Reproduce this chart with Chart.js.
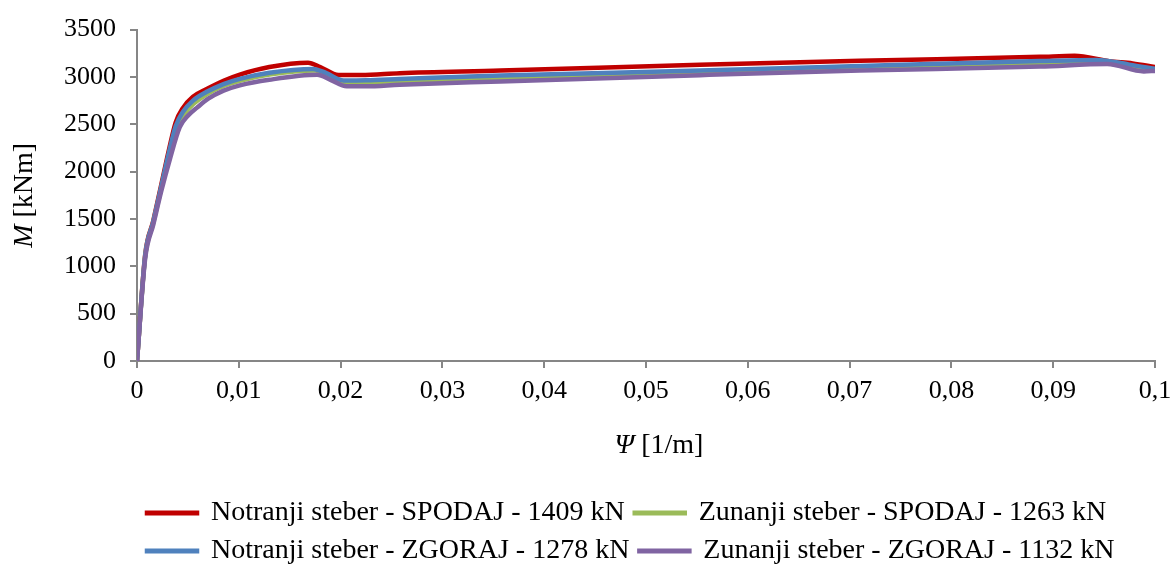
<!DOCTYPE html>
<html>
<head>
<meta charset="utf-8">
<script src="https://cdn.jsdelivr.net/npm/chart.js@4"></script>
<style>
    html, body { margin: 0; padding: 0; background: #fff; overflow: hidden; }
    #wrap { width: 1172px; height: 575px; }
</style>
</head>
<body>
<div id="wrap"><canvas id="moment-curvature-chart"></canvas></div>
<script>
// Notranji steber - SPODAJ - 1409 kN
const psiNotranjiSpodaj = [0, 0.0008, 0.0016, 0.0024, 0.0032, 0.0038, 0.0045, 0.0055, 0.0068, 0.0085, 0.0101, 0.013, 0.0168, 0.018, 0.0198, 0.022, 0.0258, 0.0357, 0.0553, 0.071, 0.0887, 0.0921, 0.0955, 0.0978, 0.1];
const mNotranjiSpodaj   = [0, 1120, 1480, 1870, 2260, 2520, 2670, 2790, 2870, 2960, 3025, 3105, 3150, 3105, 3020, 3020, 3040, 3067, 3129, 3171, 3212, 3223, 3165, 3143, 3105];

// Zunanji steber - SPODAJ - 1263 kN
const psiZunanjiSpodaj = [0, 0.0008, 0.0016, 0.0024, 0.0032, 0.0039, 0.0046, 0.0056, 0.0069, 0.0085, 0.0101, 0.013, 0.0175, 0.0188, 0.0205, 0.0225, 0.0258, 0.0357, 0.0553, 0.071, 0.089, 0.0947, 0.0978, 0.1];
const mZunanjiSpodaj   = [0, 1100, 1460, 1830, 2200, 2450, 2600, 2720, 2820, 2905, 2960, 3025, 3068, 3020, 2945, 2945, 2955, 2988, 3046, 3098, 3148, 3160, 3110, 3075];

// Notranji steber - ZGORAJ - 1278 kN
const psiNotranjiZgoraj = [0, 0.0008, 0.0016, 0.0024, 0.0032, 0.0038, 0.0045, 0.0055, 0.0068, 0.0085, 0.0101, 0.013, 0.0173, 0.0186, 0.0203, 0.0225, 0.0258, 0.0357, 0.0553, 0.071, 0.0887, 0.0943, 0.0975, 0.1];
const mNotranjiZgoraj   = [0, 1110, 1470, 1850, 2230, 2480, 2630, 2750, 2840, 2925, 2980, 3045, 3085, 3040, 2963, 2965, 2978, 3015, 3067, 3116, 3168, 3180, 3130, 3085];

// Zunanji steber - ZGORAJ - 1132 kN
const psiZunanjiZgoraj = [0, 0.0008, 0.0016, 0.0024, 0.0032, 0.0042, 0.005, 0.0059, 0.007, 0.0085, 0.0101, 0.013, 0.0177, 0.019, 0.0206, 0.0225, 0.0258, 0.0357, 0.0553, 0.071, 0.0887, 0.0953, 0.0989, 0.1];
const mZunanjiZgoraj   = [0, 1080, 1440, 1800, 2120, 2469, 2590, 2676, 2770, 2855, 2911, 2970, 3022, 2970, 2901, 2901, 2918, 2953, 3019, 3067, 3109, 3137, 3058, 3064];

const xTickLabels = ["0", "0,01", "0,02", "0,03", "0,04", "0,05", "0,06", "0,07", "0,08", "0,09", "0,1"];
const yTickValues = [0, 500, 1000, 1500, 2000, 2500, 3000, 3500];

const serif = "'Liberation Serif', 'Times New Roman', serif";
const axisGray = "#868686";

const toPoints = (psi, m) => psi.map((x, i) => ({ x: x, y: m[i] }));

const series = (label, color, psi, m, order) => ({
    label: label,
    data: toPoints(psi, m),
    borderColor: color,
    backgroundColor: color,
    borderWidth: 4.5,
    pointRadius: 0,
    cubicInterpolationMode: 'monotone',
    order: order
});

// axis titles with an italic symbol followed by upright units
const axisTitles = {
    id: 'axisTitles',
    afterDraw(chart) {
        const ctx = chart.ctx;
        const area = chart.chartArea;

        const drawMixed = (symbol, rest, cx, cy) => {
            ctx.font = "italic 28px " + serif;
            const w1 = ctx.measureText(symbol).width;
            ctx.font = "28px " + serif;
            const w2 = ctx.measureText(rest).width;
            let x = cx - (w1 + w2) / 2;
            ctx.font = "italic 28px " + serif;
            ctx.fillText(symbol, x, cy);
            ctx.font = "28px " + serif;
            ctx.fillText(rest, x + w1, cy);
        };

        ctx.save();
        ctx.fillStyle = "#000";
        ctx.textAlign = "left";
        ctx.textBaseline = "middle";
        drawMixed("Ψ", " [1/m]", (area.left + area.right) / 2 + 13, area.bottom + 85);
        ctx.translate(25, (area.top + area.bottom) / 2);
        ctx.rotate(-Math.PI / 2);
        drawMixed("M", " [kNm]", 0, 0);
        ctx.restore();
    }
};

new Chart(document.getElementById("moment-curvature-chart"), {
    type: 'line',
    data: {
        datasets: [
            series("Notranji steber - SPODAJ - 1409 kN", "rgb(192,0,0)", psiNotranjiSpodaj, mNotranjiSpodaj, 3),
            series("Zunanji steber - SPODAJ - 1263 kN", "rgb(155,187,89)", psiZunanjiSpodaj, mZunanjiSpodaj, 2),
            series("Notranji steber - ZGORAJ - 1278 kN", "rgb(79,129,189)", psiNotranjiZgoraj, mNotranjiZgoraj, 1),
            series("Zunanji steber - ZGORAJ - 1132 kN", "rgb(128,100,162)", psiZunanjiZgoraj, mZunanjiZgoraj, 0)
        ]
    },
    options: {
        responsive: true,
        maintainAspectRatio: false,
        animation: false,
        layout: {
            padding: { top: 24, right: 17, bottom: 0, left: 0 }
        },
        plugins: {
            legend: {
                position: 'bottom',
                fullSize: false,
                align: 'start',
                labels: {
                    color: "#000",
                    font: { family: serif, size: 28 },
                    boxWidth: 50,
                    boxHeight: 0.5,
                    padding: 10,
                    sort: (a, b) => a.datasetIndex - b.datasetIndex
                }
            },
            tooltip: { enabled: false }
        },
        scales: {
            x: {
                type: 'linear',
                min: 0,
                max: 0.1,
                afterBuildTicks: (scale) => {
                    scale.ticks = xTickLabels.map((_, i) => ({ value: i / 100 }));
                },
                afterFit: (scale) => {
                    scale.height = 128;
                    // "0,1" may hang past the right edge of the plot
                    scale.paddingRight = 0;
                },
                ticks: {
                    color: "#000",
                    font: { family: serif, size: 26 },
                    padding: 8,
                    maxRotation: 0,
                    autoSkip: false,
                    callback: (value, index) => xTickLabels[index]
                },
                grid: {
                    drawOnChartArea: false,
                    drawTicks: true,
                    tickLength: 7,
                    color: axisGray,
                    lineWidth: 2
                },
                border: { display: true, color: axisGray, width: 2 }
            },
            y: {
                type: 'linear',
                min: 0,
                max: 3500,
                afterBuildTicks: (scale) => {
                    scale.ticks = yTickValues.map(v => ({ value: v }));
                },
                afterFit: (scale) => { scale.width = 137; },
                ticks: {
                    color: "#000",
                    font: { family: serif, size: 26 },
                    padding: 14,
                    callback: (value) => String(value)
                },
                grid: {
                    drawOnChartArea: false,
                    drawTicks: true,
                    tickLength: 7,
                    color: axisGray,
                    lineWidth: 2
                },
                border: { display: true, color: axisGray, width: 2 }
            }
        }
    },
    plugins: [axisTitles]
});
</script>
</body>
</html>
